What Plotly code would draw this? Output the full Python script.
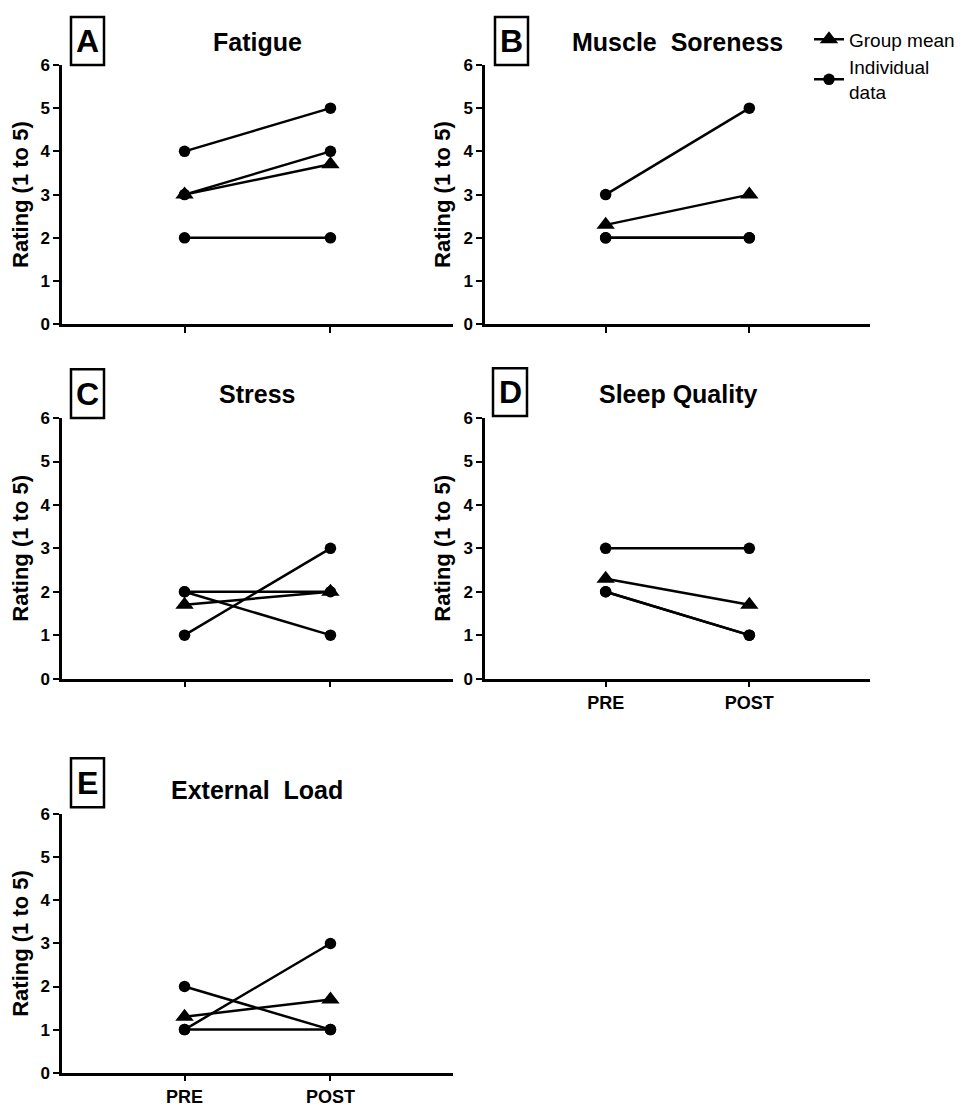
import plotly.graph_objects as go

W, H = 962, 1107
FONT = "Liberation Sans, Arial, sans-serif"

# ---------------- data ----------------
phases = ["PRE", "POST"]
panel_letters = ["A", "B", "C", "D", "E"]
panel_titles = ["Fatigue", "Muscle\u00a0 Soreness", "Stress", "Sleep Quality", "External\u00a0 Load"]

fatigue_pre = [4, 3, 2]
fatigue_post = [5, 4, 2]
fatigue_mean = [3.0, 3.7]

soreness_pre = [3, 2, 2]
soreness_post = [5, 2, 2]
soreness_mean = [2.3, 3.0]

stress_pre = [2, 2, 1]
stress_post = [2, 1, 3]
stress_mean = [1.7, 2.0]

sleep_pre = [3, 2, 2]
sleep_post = [3, 1, 1]
sleep_mean = [2.3, 1.7]

load_pre = [2, 1, 1]
load_post = [1, 3, 1]
load_mean = [1.3, 1.7]

y_ticks = [0, 1, 2, 3, 4, 5, 6]
y_title = "Rating (1 to 5)"
legend_mean = "Group mean"
legend_indiv = "Individual<br>data"

panel_data = [
    (fatigue_pre, fatigue_post, fatigue_mean),
    (soreness_pre, soreness_post, soreness_mean),
    (stress_pre, stress_post, stress_mean),
    (sleep_pre, sleep_post, sleep_mean),
    (load_pre, load_post, load_mean),
]

# ---------------- layout geometry (target pixels in the picture) ----------------
panels = [
    dict(l=62, r=453, t=63, b=323, box=(71, 104, 15, 63), ty=40, xlab=False),
    dict(l=485, r=870, t=63, b=323, box=(495, 528, 15, 63), ty=40, xlab=False),
    dict(l=62, r=453, t=417, b=678, box=(71, 104, 368, 417), ty=393, xlab=False),
    dict(l=485, r=870, t=417, b=678, box=(493, 527, 367, 415), ty=393, xlab=True),
    dict(l=62, r=453, t=814, b=1073, box=(71, 104, 758, 807), ty=790, xlab=True),
]


# page offset compensation (observed rendering offset)
def X(x):
    return x - 8


def Y(y):
    return (y - 15) / 0.985


def px(x):
    return X(x) / W


def py(y):
    return 1 - Y(y) / H


fig = go.Figure()
shapes = []
annotations = []
layout_axes = {}

for i, (p, (pre, post, mean)) in enumerate(zip(panels, panel_data)):
    n = i + 1
    xa = "x" if n == 1 else f"x{n}"
    ya = "y" if n == 1 else f"y{n}"
    for j, (a, b) in enumerate(zip(pre, post)):
        fig.add_trace(go.Scatter(
            x=phases, y=[a, b], xaxis=xa, yaxis=ya,
            mode="lines+markers",
            line=dict(color="black", width=2.5),
            marker=dict(symbol="circle", size=11.5, color="black"),
            name=legend_indiv, legendgroup="indiv", legendrank=2,
            showlegend=(i == 0 and j == 0), hoverinfo="skip",
        ))
    fig.add_trace(go.Scatter(
        x=phases, y=mean, xaxis=xa, yaxis=ya,
        mode="lines+markers",
        line=dict(color="black", width=2.5),
        marker=dict(symbol="triangle-up", size=16, color="black"),
        name=legend_mean, legendgroup="mean", legendrank=1,
        showlegend=(i == 0), hoverinfo="skip",
    ))

    xkey = "xaxis" if n == 1 else f"xaxis{n}"
    ykey = "yaxis" if n == 1 else f"yaxis{n}"
    layout_axes[xkey] = dict(
        domain=[px(p["l"]), px(p["r"])], anchor=ya,
        type="category", categoryarray=phases, categoryorder="array",
        range=[-0.84, 1.84],
        showline=True, linecolor="black", linewidth=2.5,
        ticks="outside", ticklen=6, tickwidth=2, tickcolor="black",
        showticklabels=p["xlab"],
        tickfont=dict(family=FONT, size=18, color="black", weight="bold"),
        showgrid=False, zeroline=False, fixedrange=True,
    )
    layout_axes[ykey] = dict(
        domain=[py(p["b"]), py(p["t"])], anchor=xa,
        range=[0, 6], tickvals=y_ticks,
        showline=True, linecolor="black", linewidth=2.5,
        ticks="outside", ticklen=6, tickwidth=2, tickcolor="black",
        tickfont=dict(family=FONT, size=17, color="black", weight="bold"),
        title=dict(text=y_title, standoff=7,
                   font=dict(family=FONT, size=22, color="black", weight="bold")),
        showgrid=False, zeroline=False, fixedrange=True,
    )

    bx0, bx1, by0, by1 = p["box"]
    shapes.append(dict(type="rect", xref="paper", yref="paper",
                       x0=px(bx0), x1=px(bx1), y0=py(by1), y1=py(by0),
                       line=dict(color="black", width=2.5), fillcolor="white"))
    annotations.append(dict(
        x=px((bx0 + bx1) / 2), y=py((by0 + by1) / 2), xref="paper", yref="paper",
        text=panel_letters[i], showarrow=False, xanchor="center", yanchor="middle",
        font=dict(family=FONT, size=32, color="black", weight="bold"),
    ))
    annotations.append(dict(
        x=px((p["l"] + p["r"]) / 2), y=py(p["ty"]), xref="paper", yref="paper",
        text=panel_titles[i], showarrow=False, xanchor="center", yanchor="middle",
        font=dict(family=FONT, size=25, color="black", weight="bold"),
    ))

fig.update_layout(
    width=W, height=H,
    margin=dict(l=0, r=0, t=0, b=0),
    paper_bgcolor="white", plot_bgcolor="white",
    shapes=shapes, annotations=annotations,
    showlegend=True,
    legend=dict(
        x=px(809), y=1 - 3.5 / H, xanchor="left", yanchor="top",
        font=dict(family=FONT, size=19, color="black"),
        bgcolor="rgba(0,0,0,0)", tracegroupgap=0, itemwidth=30,
        traceorder="normal",
    ),
    **layout_axes,
)

fig.write_html("out.html")
